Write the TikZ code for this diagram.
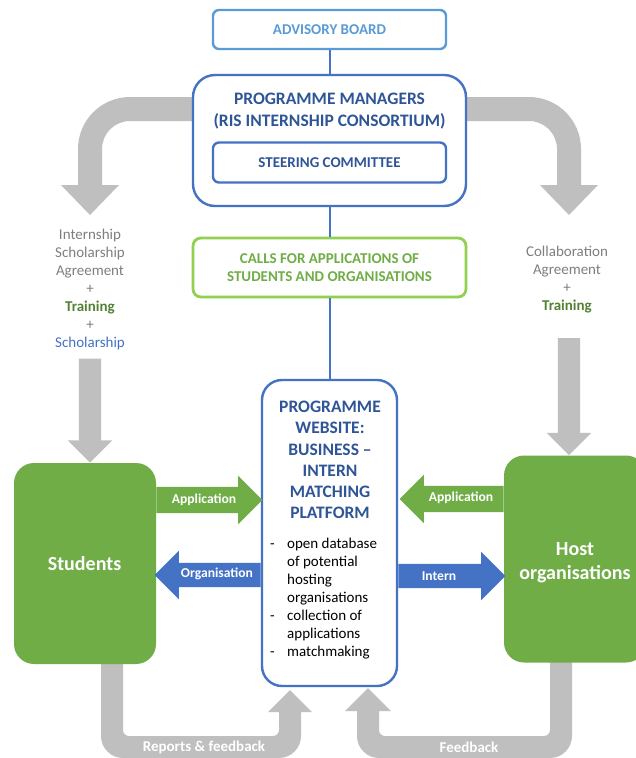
\documentclass[tikz,border=0pt]{standalone}
\usepackage{fontspec}
\setmainfont{Carlito}
\usetikzlibrary{shapes.arrows}
\definecolor{boardblue}{HTML}{5B9BD5}
\definecolor{frameblue}{HTML}{4472C4}
\definecolor{titleblue}{HTML}{2F5597}
\definecolor{actorgreen}{HTML}{70AD47}
\definecolor{callgreen}{HTML}{92D050}
\definecolor{traingreen}{HTML}{548235}
\definecolor{flowgray}{HTML}{BFBFBF}
\definecolor{notegray}{HTML}{7F7F7F}
\newcommand{\fsize}[2]{\fontsize{#1}{#2}\selectfont}

\begin{document}
\begin{tikzpicture}[x=1pt, y=-1pt,
    panel/.style={draw=frameblue, fill=white, line width=2.4pt, rounded corners=#1, inner sep=0pt, align=center, text=titleblue, font=\bfseries\fsize{15}{18}},
    actor/.style={fill=actorgreen, rounded corners=20pt, inner sep=0pt, minimum width=142pt},
    actortext/.style={text=white, align=center, font=\bfseries\fsize{20}{24}},
    link/.style={frameblue, line width=2pt},
    flow/.style={fill=flowgray},
    blockarrow/.style={single arrow, inner xsep=0pt, inner ysep=13pt, single arrow head extend=11pt, minimum width=48pt},
    thinarrow/.style={blockarrow, inner ysep=12pt, single arrow head extend=12pt},
    grayarrow/.style={blockarrow, fill=flowgray, inner ysep=11pt, minimum width=44pt},
    arrowtext/.style={text=white, font=\bfseries\fsize{13.6}{16}},
    note/.style={text=notegray, align=center, font=\fsize{15}{18}}
]
    \fill[white] (0,0) rectangle (636,758);
    \useasboundingbox (0,0) rectangle (636,758);

    % Flèches grises du haut
    \fill[flow] (193,97) -- (130,97) arc[start angle=270, end angle=180, radius=52] -- (78,185) -- (61,185) -- (90,215) -- (119,185) -- (102,185) -- (102,149) arc[start angle=180, end angle=270, radius=28] -- (193,121) -- cycle;
    \fill[flow] (466,97) -- (529,97) arc[start angle=270, end angle=360, radius=52] -- (581,185) -- (598,185) -- (569,215) -- (540,185) -- (557,185) -- (557,149) arc[start angle=0, end angle=-90, radius=28] -- (466,121) -- cycle;

    % Flèches grises du bas
    \fill[flow] (101,664) -- (101,736) arc[start angle=180, end angle=90, radius=22] -- (279,758) arc[start angle=90, end angle=0, radius=22] -- (301,712) -- (312,712) -- (290,690) -- (268,712) -- (279,712) -- (279,730) arc[start angle=0, end angle=90, radius=6] -- (129,736) arc[start angle=90, end angle=180, radius=6] -- (123,664) -- cycle;
    \fill[flow] (572,662) -- (572,736) arc[start angle=0, end angle=90, radius=22] -- (379,758) arc[start angle=90, end angle=180, radius=22] -- (357,711) -- (345,711) -- (368,688) -- (391,711) -- (379,711) -- (379,730) arc[start angle=180, end angle=90, radius=6] -- (544,736) arc[start angle=90, end angle=0, radius=6] -- (550,662) -- cycle;
    \node[arrowtext, font=\bfseries\fsize{15}{18}] (reportslabel) at (204,747) {Reports \& feedback};
    \node[arrowtext, font=\bfseries\fsize{15}{18}] (feedbacklabel) at (469,747) {Feedback};

    % Gouvernance
    \node[panel=6pt, draw=boardblue, text=boardblue, minimum width=233pt, minimum height=39pt] (board) at (329.5,29.5) {ADVISORY BOARD};
    \node[panel=22pt, minimum width=273pt, minimum height=131pt] (managers) at (329.5,140.5) {};
    \node[text=titleblue, align=center, font=\bfseries\fsize{17.5}{22}] (managerstitle) at (329.5,111) {PROGRAMME MANAGERS\\(RIS INTERNSHIP CONSORTIUM)};
    \node[panel=6pt, minimum width=233pt, minimum height=40pt] (steering) at (329.5,162.5) {STEERING COMMITTEE};
    \node[panel=8pt, draw=callgreen, text=actorgreen, line width=2.8pt, minimum width=273pt, minimum height=59pt] (calls) at (329.5,267.5) {CALLS FOR APPLICATIONS OF\\STUDENTS AND ORGANISATIONS};

    % Plateforme
    \node[panel=20pt, minimum width=135pt, minimum height=306pt] (website) at (329.5,533) {};
    \node[text=titleblue, align=center, font=\bfseries\fsize{17.5}{21.2}] (websitetitle) at (330,460) {PROGRAMME\\WEBSITE:\\BUSINESS --\\INTERN\\MATCHING\\PLATFORM};
    \node[anchor=base west, inner sep=0pt, font=\fsize{15}{18}] (features) at (270,548.5) {%
        \begin{tabular}[t]{@{}p{12pt}@{\hspace{5pt}}l@{}}
        - & open database\\
          & of potential\\
          & hosting\\
          & organisations\\
        - & collection of\\
          & applications\\
        - & matchmaking
        \end{tabular}};

    \draw[link] (board) -- (managers);
    \draw[link] (managers) -- (calls);
    \draw[link] (calls) -- (website);

    % Acteurs
    \node[actor, minimum height=201pt] (students) at (85,563.5) {};
    \node[actortext] (studentsname) at (84.5,563.5) {Students};
    \node[actor, minimum height=207pt] (host) at (575,559) {};
    \node[actortext] (hostname) at (575,562.5) {Host\\organisations};

    % Textes des accords
    \node[note] (studentdeal) at (90,289.5) {Internship\\Scholarship\\Agreement\\+\\{\color{traingreen}\bfseries Training}\\+\\{\color{frameblue}Scholarship}};
    \node[note] (hostdeal) at (567,280) {Collaboration\\Agreement\\+\\{\color{traingreen}\bfseries Training}};
    \node[grayarrow, minimum height=104pt, rotate=-90, anchor=tip] (tostudents) at (students.north -| 90,0) {};
    \node[grayarrow, minimum height=117pt, rotate=-90, anchor=tip] (tohost) at (host.north -| 569,0) {};

    % Flux entre acteurs et plateforme
    \node[blockarrow, fill=actorgreen, minimum height=106pt, anchor=tail] (studentapply) at (students.east |- 0,500) {};
    \node[arrowtext] (studentapplylabel) at (204,500) {Application};
    \node[blockarrow, fill=actorgreen, minimum height=104pt, rotate=180, anchor=tail] (hostapply) at (host.west |- 0,499) {};
    \node[arrowtext] (hostapplylabel) at (461,498) {Application};
    \node[thinarrow, fill=frameblue, minimum height=106pt, rotate=180, anchor=tail] (orgarrow) at (website.west |- 0,575) {};
    \node[arrowtext] (orglabel) at (217,574) {Organisation};
    \node[thinarrow, fill=frameblue, minimum height=107pt, anchor=tail] (internarrow) at (website.east |- 0,576) {};
    \node[arrowtext] (internlabel) at (439,576) {Intern};
\end{tikzpicture}
\end{document}
